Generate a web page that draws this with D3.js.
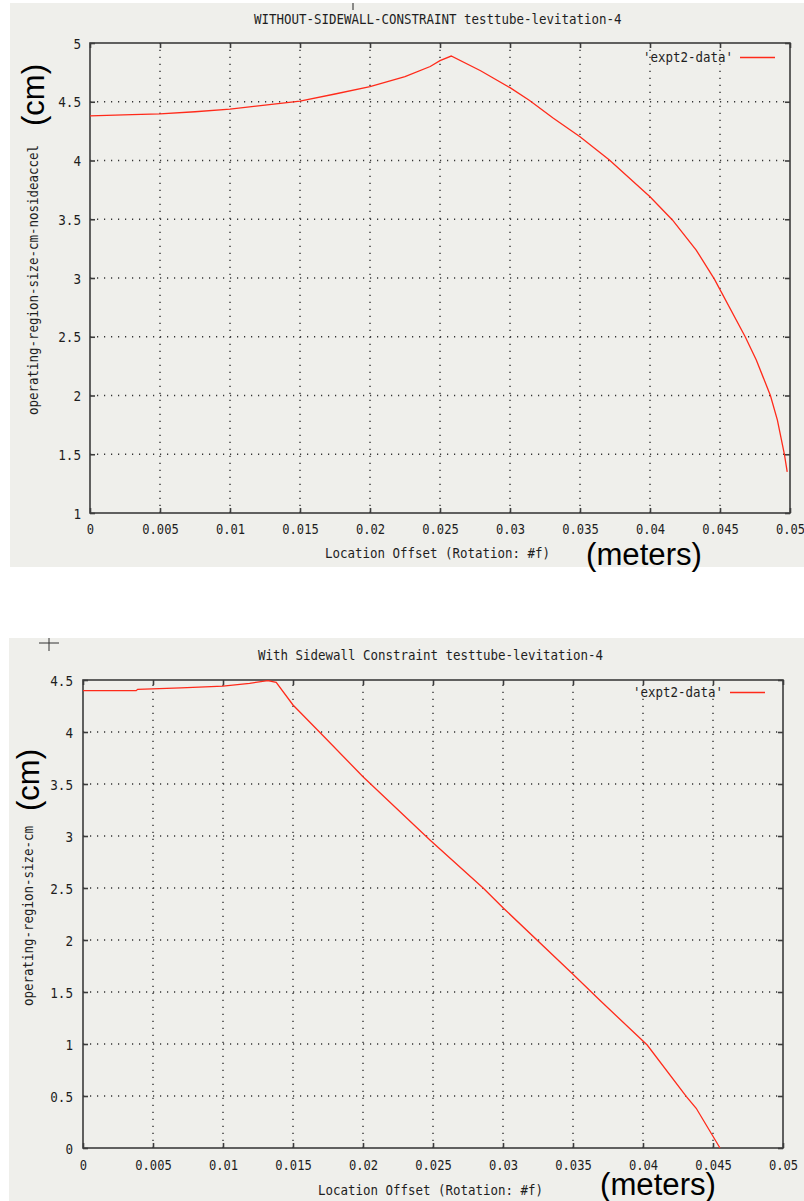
<!DOCTYPE html>
<html>
<head>
<meta charset="utf-8">
<script src="https://cdn.jsdelivr.net/npm/d3@7"></script>
<style>
  html, body { margin: 0; padding: 0; background: #ffffff; }
  svg { display: block; }
</style>
</head>
<body>
<script>
// ---------- data ----------
const topTitle = "WITHOUT-SIDEWALL-CONSTRAINT testtube-levitation-4";
const botTitle = "With Sidewall Constraint testtube-levitation-4";
const topYLabel = "operating-region-size-cm-nosideaccel";
const botYLabel = "operating-region-size-cm";
const xLabel = "Location Offset (Rotation: #f)";
const legendLabel = "'expt2-data'";

const xTicks = [0, 0.005, 0.01, 0.015, 0.02, 0.025, 0.03, 0.035, 0.04, 0.045, 0.05];
const xTickLabels = ["0", "0.005", "0.01", "0.015", "0.02", "0.025", "0.03", "0.035", "0.04", "0.045", "0.05"];
const topYTicks = [1, 1.5, 2, 2.5, 3, 3.5, 4, 4.5, 5];
const topYTickLabels = ["1", "1.5", "2", "2.5", "3", "3.5", "4", "4.5", "5"];
const botYTicks = [0, 0.5, 1, 1.5, 2, 2.5, 3, 3.5, 4, 4.5];
const botYTickLabels = ["0", "0.5", "1", "1.5", "2", "2.5", "3", "3.5", "4", "4.5"];

const topX = [0, 0.003, 0.005, 0.0075, 0.01, 0.0125, 0.015, 0.0175, 0.02, 0.0225, 0.0243, 0.025, 0.0258,
              0.0279, 0.03, 0.0314, 0.0331, 0.035, 0.0371, 0.04, 0.0416, 0.0433, 0.0446, 0.0468,
              0.0476, 0.0486, 0.0491, 0.0496, 0.0498];
const topY = [4.38, 4.39, 4.396, 4.415, 4.438, 4.472, 4.506, 4.566, 4.628, 4.713, 4.80, 4.85, 4.889,
              4.764, 4.62, 4.51, 4.36, 4.203, 4.004, 3.692, 3.494, 3.238, 2.99, 2.50,
              2.30, 2.0, 1.79, 1.50, 1.35];

const botX = [0, 0.0038, 0.0039, 0.007, 0.01, 0.0119, 0.0132, 0.0138, 0.015, 0.0171, 0.02, 0.0248,
              0.0286, 0.03, 0.035, 0.0369, 0.0403, 0.0431, 0.0438, 0.0455];
const botY = [4.397, 4.397, 4.41, 4.425, 4.442, 4.468, 4.493, 4.478, 4.26, 3.971, 3.57, 2.96,
              2.497, 2.31, 1.67, 1.423, 0.99, 0.494, 0.382, 0.0];

// ---------- drawing ----------
const W = 804, H = 1201;
const BG = "#efefeb";
const INK = "#1e1e1e";
const AXIS = "#3c3c3c";
const RED = "#ff2a1a";
const MONO = "'DejaVu Sans Mono', 'Liberation Mono', monospace";
const SANS = "'Liberation Sans', Arial, Helvetica, sans-serif";
const CW = 7.5; // mono char width

const svg = d3.select("body").append("svg").attr("width", W).attr("height", H);
svg.append("rect").attr("width", W).attr("height", H).attr("fill", "#ffffff");

function monoText(g, str, x, y, opts = {}) {
  const t = g.append("text")
    .attr("x", x).attr("y", y)
    .attr("font-family", MONO)
    .attr("font-size", opts.size || 14)
    .attr("fill", INK)
    .attr("text-anchor", opts.anchor || "start")
    .attr("textLength", str.length * (opts.cw || CW))
    .attr("lengthAdjust", "spacingAndGlyphs")
    .text(str);
  if (opts.rotate) t.attr("transform", `rotate(-90,${x},${y})`);
  return t;
}

function panel(cfg) {
  const g = svg.append("g");
  g.append("rect").attr("x", cfg.bg[0]).attr("y", cfg.bg[1]).attr("width", cfg.bg[2]).attr("height", cfg.bg[3]).attr("fill", BG);

  const x = d3.scaleLinear().domain([xTicks[0], xTicks[xTicks.length - 1]]).range([cfg.x0, cfg.x1]);
  const y = d3.scaleLinear().domain([cfg.yTicks[0], cfg.yTicks[cfg.yTicks.length - 1]]).range([cfg.y1, cfg.y0]);
  const pw = cfg.x1 - cfg.x0, ph = cfg.y1 - cfg.y0;

  // grid (dotted), interior ticks only
  const grid = g.append("g").attr("stroke", "#333").attr("stroke-width", 1.4).attr("stroke-dasharray", "1.2,5.8");
  xTicks.slice(1, -1).forEach(v => {
    grid.append("line").attr("x1", x(v)).attr("x2", x(v)).attr("y1", cfg.y1).attr("y2", cfg.y0);
  });
  cfg.yTicks.slice(1, -1).forEach(v => {
    grid.append("line").attr("x1", cfg.x0).attr("x2", cfg.x1).attr("y1", y(v)).attr("y2", y(v));
  });

  // inward ticks on all sides via d3 axes
  const tickLen = 5;
  const mk = (axis, tr) => {
    const a = g.append("g").attr("transform", tr).call(axis);
    a.select(".domain").remove();
    a.selectAll("text").remove();
    a.selectAll("line").attr("stroke", AXIS).attr("stroke-width", 1.6);
    return a;
  };
  mk(d3.axisBottom(x).tickValues(xTicks).tickSize(-tickLen), `translate(0,${cfg.y1})`);
  mk(d3.axisTop(x).tickValues(xTicks).tickSize(-tickLen), `translate(0,${cfg.y0})`);
  mk(d3.axisLeft(y).tickValues(cfg.yTicks).tickSize(-tickLen), `translate(${cfg.x0},0)`);
  mk(d3.axisRight(y).tickValues(cfg.yTicks).tickSize(-tickLen), `translate(${cfg.x1},0)`);

  // border
  g.append("rect").attr("x", cfg.x0).attr("y", cfg.y0).attr("width", pw).attr("height", ph)
    .attr("fill", "none").attr("stroke", AXIS).attr("stroke-width", 1.6);

  // tick labels
  const xa = g.append("g").attr("transform", `translate(0,${cfg.y1})`)
    .call(d3.axisBottom(x).tickValues(xTicks).tickSize(0).tickFormat((d, i) => xTickLabels[i]));
  xa.select(".domain").remove();
  xa.selectAll("text").attr("y", cfg.xLabY - cfg.y1).attr("dy", 0)
    .attr("font-family", MONO).attr("font-size", 14).attr("fill", INK)
    .attr("textLength", function () { return this.textContent.length * 7.3; })
    .attr("lengthAdjust", "spacingAndGlyphs");

  const ya = g.append("g").attr("transform", `translate(${cfg.yLabX},0)`)
    .call(d3.axisLeft(y).tickValues(cfg.yTicks).tickSize(0).tickPadding(0).tickFormat((d, i) => cfg.yTickLabels[i]));
  ya.select(".domain").remove();
  ya.selectAll("text").attr("x", 0).attr("dy", "0.36em")
    .attr("font-family", MONO).attr("font-size", 14).attr("fill", INK)
    .attr("textLength", function () { return this.textContent.length * 7.6; })
    .attr("lengthAdjust", "spacingAndGlyphs");

  // data line
  const pts = cfg.xs.map((v, i) => [v, cfg.ys[i]]);
  g.append("path").datum(pts)
    .attr("fill", "none").attr("stroke", RED).attr("stroke-width", 1.3)
    .attr("d", d3.line().x(d => x(d[0])).y(d => y(d[1])));

  // legend
  monoText(g, legendLabel, cfg.legX, cfg.legY, { anchor: "end" });
  g.append("line").attr("x1", cfg.legX + 7).attr("x2", cfg.legX + 42)
    .attr("y1", cfg.legY - 4.5).attr("y2", cfg.legY - 4.5)
    .attr("stroke", RED).attr("stroke-width", 1.3);

  // title
  monoText(g, cfg.title, cfg.titleX, cfg.titleY);
  // x label
  monoText(g, xLabel, cfg.xTitleX, cfg.xTitleY);
  // y label
  monoText(g, cfg.yLabel, cfg.yTitleX, cfg.yTitleY, { rotate: true });

  // big annotations
  g.append("text").attr("x", cfg.cmX).attr("y", cfg.cmY)
    .attr("transform", `rotate(-90,${cfg.cmX},${cfg.cmY})`)
    .attr("text-anchor", "middle").attr("font-family", SANS).attr("font-size", 31).attr("fill", "#000")
    .text("(cm)");
  g.append("text").attr("x", cfg.mX).attr("y", cfg.mY)
    .attr("font-family", SANS).attr("font-size", 31).attr("fill", "#000")
    .attr("textLength", 116).attr("lengthAdjust", "spacingAndGlyphs")
    .text("(meters)");
  return g;
}

const gTop = panel({
  bg: [10, 3, 794, 564],
  x0: 90, x1: 790, y0: 43, y1: 513,
  yTicks: topYTicks, yTickLabels: topYTickLabels,
  xs: topX, ys: topY,
  xLabY: 534, yLabX: 81,
  legX: 733, legY: 62,
  title: topTitle, titleX: 254, titleY: 24,
  xTitleX: 325, xTitleY: 558,
  yLabel: topYLabel, yTitleX: 38, yTitleY: 415,
  cmX: 44, cmY: 95,
  mX: 586, mY: 565
});
// small mark at top
gTop.append("line").attr("x1", 353).attr("x2", 353).attr("y1", 3).attr("y2", 10).attr("stroke", "#222").attr("stroke-width", 1);

const gBot = panel({
  bg: [9, 638, 795, 563],
  x0: 83, x1: 783, y0: 680, y1: 1148,
  yTicks: botYTicks, yTickLabels: botYTickLabels,
  xs: botX, ys: botY,
  xLabY: 1170, yLabX: 73,
  legX: 723, legY: 697,
  title: botTitle, titleX: 258, titleY: 660,
  xTitleX: 318, xTitleY: 1195,
  yLabel: botYLabel, yTitleX: 33, yTitleY: 1006,
  cmX: 39, cmY: 780,
  mX: 600, mY: 1195
});
// crosshair mark
gBot.append("line").attr("x1", 39).attr("x2", 59).attr("y1", 643).attr("y2", 643).attr("stroke", "#333").attr("stroke-width", 1);
gBot.append("line").attr("x1", 49).attr("x2", 49).attr("y1", 638).attr("y2", 651).attr("stroke", "#333").attr("stroke-width", 1);
</script>
</body>
</html>
